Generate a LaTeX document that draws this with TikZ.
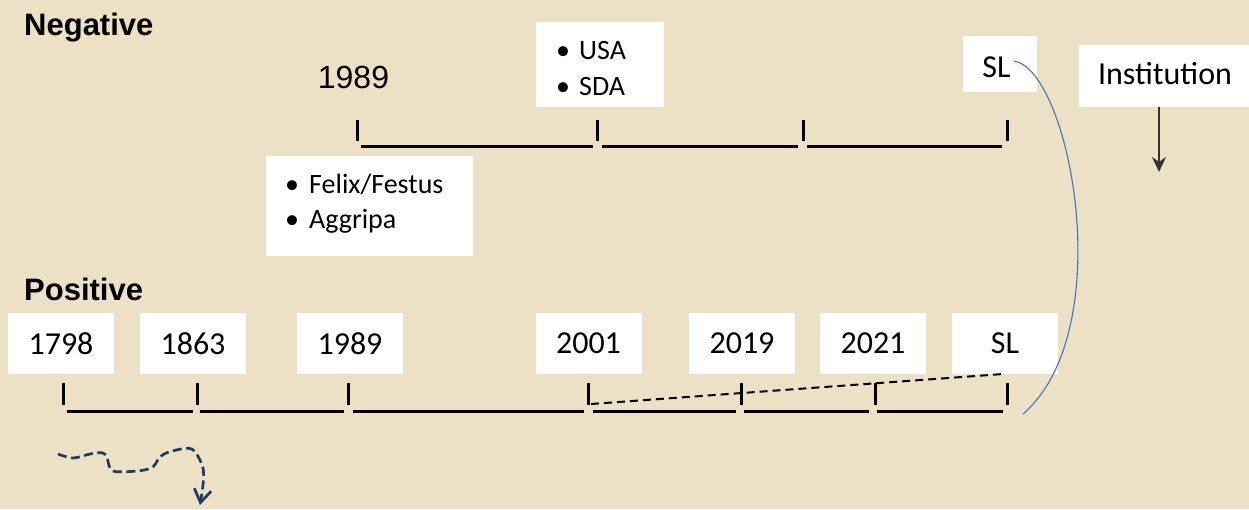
\documentclass[tikz,border=0pt]{standalone}
\usepackage{fontspec}
\setmainfont{Carlito}
\newfontfamily\arialf{Liberation Sans}
\usetikzlibrary{arrows.meta}
\definecolor{parch}{RGB}{236,225,197}
\definecolor{slblue}{RGB}{68,114,196}
\definecolor{navyc}{RGB}{32,56,100}
\begin{document}
\begin{tikzpicture}[x=1pt,y=-1pt,
  ybox/.style={fill=white,inner sep=0pt,minimum width=106pt,minimum height=61pt,font=\fontsize{32}{38}\selectfont},
  wbox/.style={fill=white,inner sep=0pt},
  btxt/.style={anchor=base west,inner sep=0pt,font=\fontsize{28}{34}\selectfont},
  head/.style={anchor=base west,inner sep=0pt,font=\arialf\bfseries\fontsize{31}{36}\selectfont},
  tickm/.style={line width=3pt},
  seg/.style={line width=3pt}]
\path[fill=parch] (0,0) rectangle (1249,509);
\useasboundingbox (0,0) rectangle (1249,509);

% headings
\node[head] (neg) at (24,35) {Negative};
\node[head] (pos) at (24,300) {Positive};

% top timeline
\node[anchor=base,inner sep=0pt,font=\arialf\fontsize{32}{38}\selectfont] (t1989) at (353.5,88) {1989};
\node[wbox,minimum width=128pt,minimum height=85pt] (usa) at (600,64.5) {};
\node[btxt] (usa1) at (556,59) {\makebox[23pt][l]{•}USA};
\node[btxt] (usa2) at (556,95) {\makebox[23pt][l]{•}SDA};
\node[wbox,minimum width=74pt,minimum height=56pt] (slt) at (1000,64) {};
\node[inner sep=0pt,font=\fontsize{32}{38}\selectfont] (sltxt) at (996.5,67) {SL};
\node[wbox,minimum width=180pt,minimum height=62pt] (inst) at (1169,76) {};
\node[inner sep=0pt,font=\fontsize{32}{38}\selectfont] (insttxt) at (1165,74) {Institution};
\node[wbox,minimum width=207pt,minimum height=100pt] (felix) at (369.5,206) {};
\node[btxt] (fel1) at (285,193) {\makebox[24pt][l]{•}Felix/Festus};
\node[btxt] (fel2) at (285,228) {\makebox[24pt][l]{•}Aggripa};

\draw[tickm] (357,120) -- (357,141);
\draw[tickm] (597,120) -- (597,141);
\draw[tickm] (803,120) -- (803,141);
\draw[tickm] (1007,120) -- (1007,141);
\draw[seg] (361,146) -- (593,146);
\draw[seg] (602,146) -- (798,146);
\draw[seg] (807,146) -- (1002,146);

% institution arrow
\coordinate (instarr) at (1159,172);
\draw[line width=1.3pt,black!80,-{Stealth[length=15pt,width=14pt,inset=5pt]}] (inst.south -| instarr) -- (instarr);

% bottom timeline
\node[ybox] (y1798) at (61,343.5) {1798};
\node[ybox] (y1863) at (193,343.5) {1863};
\node[ybox] (y1989) at (350,343.5) {1989};
\node[ybox] (y2001) at (588.5,343.5) {2001};
\node[ybox] (y2019) at (742,343.5) {2019};
\node[ybox] (y2021) at (873,343.5) {2021};
\node[ybox] (ySL) at (1005,343.5) {SL};

\draw[tickm] (63,383) -- (63,405);
\draw[tickm] (197,383) -- (197,405);
\draw[tickm] (348,383) -- (348,405);
\draw[tickm] (588,383) -- (588,405);
\draw[tickm] (741,383) -- (741,405);
\draw[tickm] (875,383) -- (875,405);
\draw[tickm] (1007,383) -- (1007,405);
\draw[seg] (67,411) -- (193,411);
\draw[seg] (200,411) -- (344,411);
\draw[seg] (353,411) -- (584,411);
\draw[seg] (593,411) -- (736,411);
\draw[seg] (744,411) -- (869,411);
\draw[seg] (877,411) -- (1003,411);

% dashed trend line
\coordinate (dA) at (591,404);
\coordinate (dB) at (1003,374);
\draw[line width=2pt,dash pattern=on 8pt off 5pt] (dA) -- (dB);

% blue curve
\coordinate (slstart) at (1014,61);
\coordinate (slend) at (1023,414);
\draw[slblue,line width=1.1pt] (slstart) .. controls (1070,70) and (1120,330) .. (slend);

% wavy dashed arrow
\draw[navyc,line width=2.7pt,dash pattern=on 9pt off 4.5pt,-{Straight Barb[length=13pt,width=17pt]}]
  plot[smooth,tension=0.55] coordinates {(58,454) (73,458) (90,454) (101.7,452.7) (106.7,456.7) (110,468) (116.7,471.7) (140,470.7) (153,466.7) (160,456.7) (170,451.7) (186.7,448.3) (195,451.7) (203,468) (203,485) (200,505)};
\end{tikzpicture}
\end{document}
